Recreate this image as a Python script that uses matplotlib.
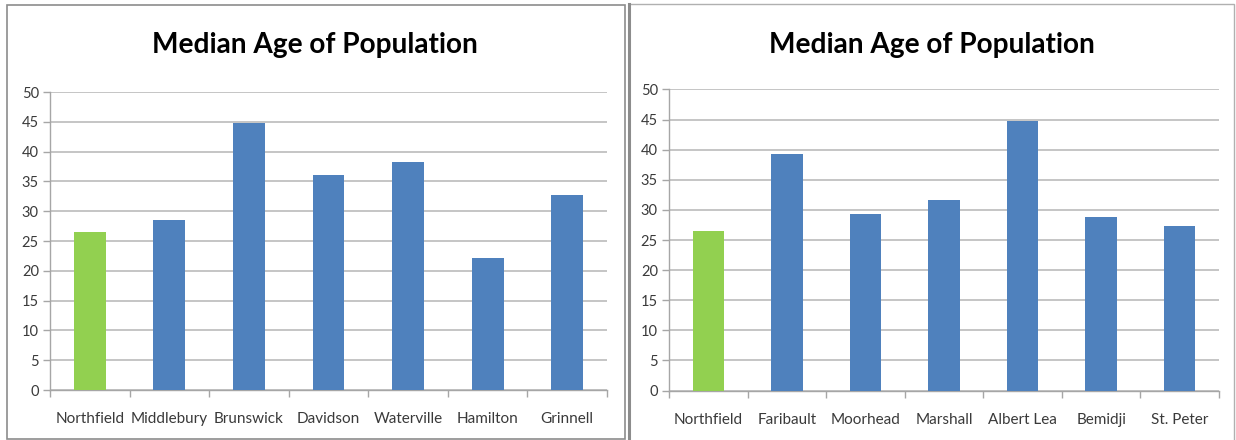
import matplotlib
matplotlib.use("Agg")
import matplotlib.pyplot as plt
from matplotlib.patches import Rectangle

# Median age by town, two comparison groups (Northfield is the reference town)
left_towns = ["Northfield", "Middlebury", "Brunswick", "Davidson", "Waterville", "Hamilton", "Grinnell"]
left_ages = [26.5, 28.6, 44.8, 36.1, 38.2, 22.2, 32.7]

right_towns = ["Northfield", "Faribault", "Moorhead", "Marshall", "Albert Lea", "Bemidji", "St. Peter"]
right_ages = [26.5, 39.3, 29.4, 31.6, 44.8, 28.9, 27.3]

y_ticks = [0, 5, 10, 15, 20, 25, 30, 35, 40, 45, 50]
title_text = "Median Age of Population"

GREEN = "#92D050"
BLUE = "#4F81BD"
GRID = "#b5b5b5"
AXIS = "#a6a6a6"
LABEL = "#3a3a3a"

W, H = 1236, 440
fig = plt.figure(figsize=(W / 100, H / 100), dpi=100)
fig.patch.set_facecolor("white")


def px_rect(x0, y0, x1, y1):
    """Convert pixel box (top-left origin) to figure-fraction rect."""
    return [x0 / W, (H - y1) / H, (x1 - x0) / W, (y1 - y0) / H]


def draw_panel(rect, towns, ages, title_x):
    ax = fig.add_axes(rect)
    n = len(towns)
    colors = [GREEN if t == "Northfield" else BLUE for t in towns]
    ax.bar(range(n), ages, width=0.40, color=colors, zorder=3)
    ax.set_xlim(-0.5, n - 0.5)
    ax.set_ylim(0, 50)
    ax.set_yticks(y_ticks)
    ax.yaxis.grid(True, color=GRID, linewidth=1.1, zorder=0)
    ax.set_axisbelow(True)
    for s in ("top", "right"):
        ax.spines[s].set_visible(False)
    for s in ("left", "bottom"):
        ax.spines[s].set_color(AXIS)
        ax.spines[s].set_linewidth(1.0)
    ax.set_xticks(range(n))
    ax.set_xticklabels(towns)
    ax.set_xticks([i - 0.5 for i in range(n + 1)], minor=True)
    ax.tick_params(axis="x", which="major", length=0, pad=16,
                   labelsize=11, labelcolor=LABEL)
    ax.tick_params(axis="x", which="minor", length=5, color=AXIS, width=1.0)
    ax.tick_params(axis="y", which="major", length=5, color=AXIS, width=1.0,
                   labelsize=10.5, labelcolor=LABEL, pad=3)
    for lab in ax.get_xticklabels() + ax.get_yticklabels():
        lab.set_family(["Lato", "DejaVu Sans"])
    fig.text(title_x, (H - 45) / H, title_text, ha="center", va="center",
             fontsize=20.2, fontweight="bold", family=["Lato", "DejaVu Sans"],
             color="black")
    return ax


draw_panel(px_rect(50, 92, 607, 390), left_towns, left_ages, 315 / W)
draw_panel(px_rect(669, 89.5, 1219, 390.5), right_towns, right_ages, 932 / W)

# Panel frames
fig.patches.append(Rectangle((7 / W, 1 / H), 618 / W, 434 / H, transform=fig.transFigure,
                             fill=False, edgecolor="#8c8c8c", linewidth=1.2))
fig.patches.append(Rectangle((629 / W, -5 / H), 605 / W, 441 / H, transform=fig.transFigure,
                             fill=False, edgecolor="#b0b0b0", linewidth=1.0))
fig.lines.append(plt.Line2D([629 / W, 629 / W], [0, 436 / H], transform=fig.transFigure,
                            color="#8c8c8c", linewidth=2.2))

fig.savefig("out.png", dpi=100)
